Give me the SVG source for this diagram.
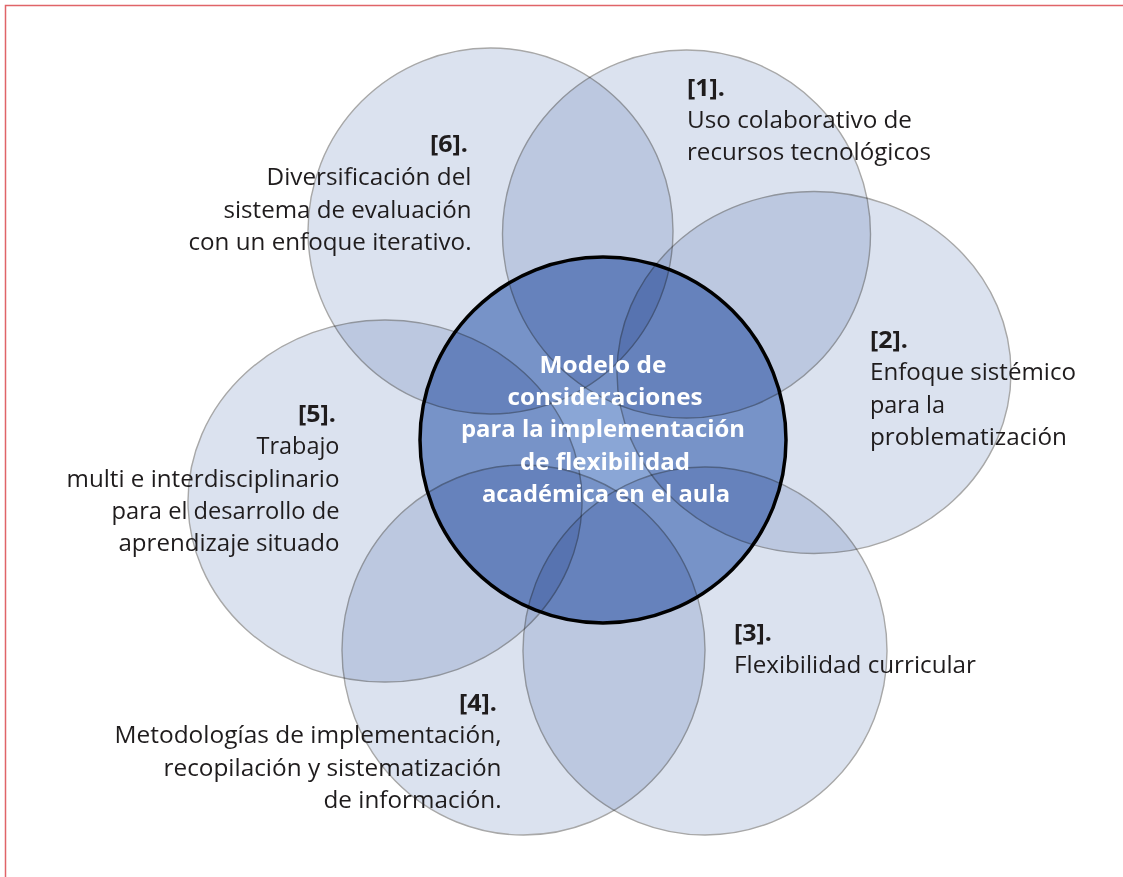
<svg xmlns="http://www.w3.org/2000/svg" width="1123" height="877" viewBox="0 0 1123 877">
<style>
.petal{fill:#dbe2ef;stroke:#a8a8a8;stroke-width:1.4;mix-blend-mode:multiply}
.core{fill:#8aa6d6;stroke:#000;stroke-width:3.5;mix-blend-mode:multiply}
.t{font-family:"Open Sans","Noto Sans","Liberation Sans",sans-serif;font-size:24px;fill:#1f1c1d}
.b{font-weight:bold}
.e{text-anchor:end}
.c{font-family:"Open Sans","Noto Sans","Liberation Sans",sans-serif;font-size:24px;font-weight:bold;fill:#fff;text-anchor:middle}
.frame{stroke:#e06468;stroke-width:1.5;fill:none}
</style>
<rect width="1123" height="877" fill="#fff"/>
<path class="frame" d="M5.5,877 V5.5 H1123"/>
<g id="diagram">
<g id="node-1">
<ellipse class="petal" cx="686.5" cy="234" rx="184" ry="184"/>
<text class="t b" x="687" y="96" textLength="38" lengthAdjust="spacingAndGlyphs">[1].</text>
<text class="t" x="687" y="128" textLength="225" lengthAdjust="spacingAndGlyphs">Uso colaborativo de</text>
<text class="t" x="687" y="160" textLength="244" lengthAdjust="spacingAndGlyphs">recursos tecnológicos</text>
</g>
<g id="node-2">
<ellipse class="petal" cx="814" cy="372.5" rx="197" ry="181"/>
<text class="t b" x="870" y="348" textLength="38" lengthAdjust="spacingAndGlyphs">[2].</text>
<text class="t" x="870" y="380" textLength="206" lengthAdjust="spacingAndGlyphs">Enfoque sistémico</text>
<text class="t" x="870" y="413" textLength="75" lengthAdjust="spacingAndGlyphs">para la</text>
<text class="t" x="870" y="445" textLength="197" lengthAdjust="spacingAndGlyphs">problematización</text>
</g>
<g id="node-3">
<ellipse class="petal" cx="705" cy="651" rx="182" ry="184"/>
<text class="t b" x="734" y="641" textLength="38" lengthAdjust="spacingAndGlyphs">[3].</text>
<text class="t" x="734" y="673" textLength="242" lengthAdjust="spacingAndGlyphs">Flexibilidad curricular</text>
</g>
<g id="node-4">
<ellipse class="petal" cx="523.5" cy="650" rx="181.5" ry="185"/>
<text class="t b e" x="497" y="711" textLength="38" lengthAdjust="spacingAndGlyphs">[4].</text>
<text class="t e" x="501.5" y="743" textLength="387" lengthAdjust="spacingAndGlyphs">Metodologías de implementación,</text>
<text class="t e" x="501.5" y="776" textLength="338" lengthAdjust="spacingAndGlyphs">recopilación y sistematización</text>
<text class="t e" x="501.5" y="808" textLength="178" lengthAdjust="spacingAndGlyphs">de información.</text>
</g>
<g id="node-5">
<ellipse class="petal" cx="385" cy="501" rx="197" ry="181"/>
<text class="t b e" x="336" y="422" textLength="38" lengthAdjust="spacingAndGlyphs">[5].</text>
<text class="t e" x="339.5" y="454" textLength="83" lengthAdjust="spacingAndGlyphs">Trabajo</text>
<text class="t e" x="339.5" y="487" textLength="273" lengthAdjust="spacingAndGlyphs">multi e interdisciplinario</text>
<text class="t e" x="339.5" y="519" textLength="228" lengthAdjust="spacingAndGlyphs">para el desarrollo de</text>
<text class="t e" x="339.5" y="551" textLength="221" lengthAdjust="spacingAndGlyphs">aprendizaje situado</text>
</g>
<g id="node-6">
<ellipse class="petal" cx="490.5" cy="231" rx="182.5" ry="183"/>
<text class="t b e" x="468" y="152" textLength="38" lengthAdjust="spacingAndGlyphs">[6].</text>
<text class="t e" x="471.5" y="185" textLength="205" lengthAdjust="spacingAndGlyphs">Diversificación del</text>
<text class="t e" x="471.5" y="218" textLength="248" lengthAdjust="spacingAndGlyphs">sistema de evaluación</text>
<text class="t e" x="471.5" y="250" textLength="283" lengthAdjust="spacingAndGlyphs">con un enfoque iterativo.</text>
</g>
<g id="node-center">
<circle class="core" cx="603" cy="440" r="183"/>
<text class="c" x="603" y="373" textLength="127" lengthAdjust="spacingAndGlyphs">Modelo de</text>
<text class="c" x="605" y="405" textLength="195" lengthAdjust="spacingAndGlyphs">consideraciones</text>
<text class="c" x="603" y="437" textLength="284" lengthAdjust="spacingAndGlyphs">para la implementación</text>
<text class="c" x="605" y="470" textLength="170" lengthAdjust="spacingAndGlyphs">de flexibilidad</text>
<text class="c" x="606" y="502" textLength="248" lengthAdjust="spacingAndGlyphs">académica en el aula</text>
</g>
</g>
<g id="connectors"/>
</svg>
